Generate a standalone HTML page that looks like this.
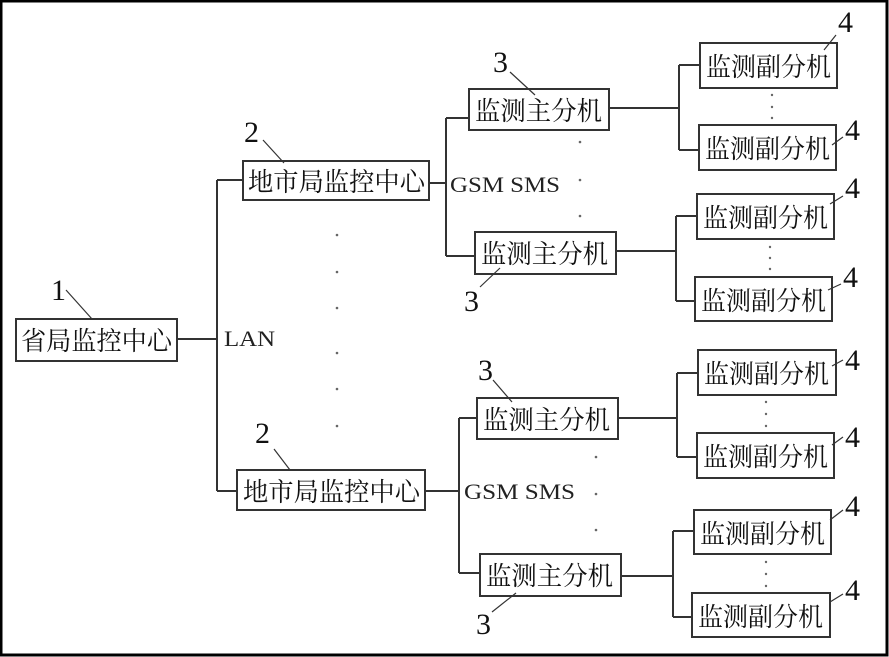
<!DOCTYPE html>
<html><head><meta charset="utf-8"><style>
html,body{margin:0;padding:0;background:#fff}
svg{display:block}
.b{fill:#fff;stroke:#333;stroke-width:2}
.l{stroke:#333;stroke-width:2;fill:none}
.ld{stroke:#333;stroke-width:1.2;fill:none}
.c{font-family:"Liberation Serif","Noto Serif CJK SC",serif;font-size:26px;fill:#111}
.n{font-family:"Liberation Serif",serif;font-size:30px;fill:#111}
.t{font-family:"Liberation Serif",serif;font-size:22px;fill:#222}
.d{fill:#666}
</style></head><body>
<svg width="889" height="657" viewBox="0 0 889 657" xmlns="http://www.w3.org/2000/svg">
<rect x="1" y="1" width="886" height="654" fill="#fff" stroke="#000" stroke-width="3"/>
<path class="l" d="M177 339H217M217 180V491M217 180H243M217 491H237"/>
<path class="l" d="M429 183H446M446 118V256M446 118H469M446 256H475"/>
<path class="l" d="M609 108H679M679 65V150M679 65H700M679 150H699"/>
<path class="l" d="M616 251H676M676 216V301M676 216H697M676 301H695"/>
<path class="l" d="M425 491H459M459 418V573M459 418H477M459 573H480"/>
<path class="l" d="M618 418H677M677 373V457M677 373H698M677 457H697"/>
<path class="l" d="M621 576H673M673 531V617M673 531H694M673 617H692"/>
<rect class="b" x="16" y="319" width="161" height="42"/>
<text class="c" x="21" y="350" textLength="151" lengthAdjust="spacingAndGlyphs">省局监控中心</text>
<rect class="b" x="243" y="161" width="186" height="39"/>
<text class="c" x="248" y="191" textLength="177" lengthAdjust="spacingAndGlyphs">地市局监控中心</text>
<rect class="b" x="237" y="470" width="188" height="40"/>
<text class="c" x="243" y="501" textLength="177" lengthAdjust="spacingAndGlyphs">地市局监控中心</text>
<rect class="b" x="469" y="89" width="140" height="41"/>
<text class="c" x="475" y="120" textLength="127" lengthAdjust="spacingAndGlyphs">监测主分机</text>
<rect class="b" x="475" y="232" width="141" height="42"/>
<text class="c" x="481" y="263" textLength="127" lengthAdjust="spacingAndGlyphs">监测主分机</text>
<rect class="b" x="477" y="398" width="141" height="41"/>
<text class="c" x="483" y="429" textLength="127" lengthAdjust="spacingAndGlyphs">监测主分机</text>
<rect class="b" x="480" y="554" width="141" height="42"/>
<text class="c" x="486" y="585" textLength="127" lengthAdjust="spacingAndGlyphs">监测主分机</text>
<g>
<rect class="b" x="700" y="43" width="137" height="45"/><text class="c" x="706" y="76" textLength="125" lengthAdjust="spacingAndGlyphs">监测副分机</text>
<rect class="b" x="699" y="125" width="137" height="45"/><text class="c" x="705" y="158" textLength="125" lengthAdjust="spacingAndGlyphs">监测副分机</text>
<rect class="b" x="697" y="194" width="137" height="45"/><text class="c" x="703" y="227" textLength="125" lengthAdjust="spacingAndGlyphs">监测副分机</text>
<rect class="b" x="695" y="277" width="137" height="44"/><text class="c" x="701" y="310" textLength="125" lengthAdjust="spacingAndGlyphs">监测副分机</text>
<rect class="b" x="698" y="350" width="138" height="45"/><text class="c" x="704" y="383" textLength="125" lengthAdjust="spacingAndGlyphs">监测副分机</text>
<rect class="b" x="697" y="433" width="137" height="45"/><text class="c" x="703" y="466" textLength="125" lengthAdjust="spacingAndGlyphs">监测副分机</text>
<rect class="b" x="694" y="510" width="137" height="44"/><text class="c" x="700" y="543" textLength="125" lengthAdjust="spacingAndGlyphs">监测副分机</text>
<rect class="b" x="692" y="593" width="138" height="44"/><text class="c" x="698" y="626" textLength="125" lengthAdjust="spacingAndGlyphs">监测副分机</text>
</g>
<text class="t" x="224" y="346" textLength="51" lengthAdjust="spacingAndGlyphs">LAN</text>
<text class="t" x="450" y="192" textLength="110" lengthAdjust="spacingAndGlyphs">GSM SMS</text>
<text class="t" x="464" y="499" textLength="111" lengthAdjust="spacingAndGlyphs">GSM SMS</text>
<g class="d">
<circle cx="337" cy="235" r="1.3"/><circle cx="337" cy="272" r="1.3"/><circle cx="337" cy="308" r="1.3"/><circle cx="337" cy="353" r="1.3"/><circle cx="337" cy="389" r="1.3"/><circle cx="337" cy="426" r="1.3"/>
<circle cx="580" cy="142" r="1.3"/><circle cx="580" cy="180" r="1.3"/><circle cx="580" cy="216" r="1.3"/>
<circle cx="596" cy="457" r="1.3"/><circle cx="596" cy="494" r="1.3"/><circle cx="596" cy="530" r="1.3"/>
<circle cx="772" cy="95" r="1.2"/><circle cx="772" cy="107" r="1.2"/><circle cx="772" cy="118" r="1.2"/>
<circle cx="770" cy="247" r="1.2"/><circle cx="770" cy="258" r="1.2"/><circle cx="770" cy="269" r="1.2"/>
<circle cx="766" cy="402" r="1.2"/><circle cx="766" cy="414" r="1.2"/><circle cx="766" cy="426" r="1.2"/>
<circle cx="766" cy="562" r="1.2"/><circle cx="766" cy="574" r="1.2"/><circle cx="766" cy="586" r="1.2"/>
</g>
<text class="n" x="51" y="300">1</text><path class="ld" d="M66 290L92 319"/>
<text class="n" x="244" y="142">2</text><path class="ld" d="M263 140L284 163"/>
<text class="n" x="255" y="443">2</text><path class="ld" d="M274 449L290 470"/>
<text class="n" x="493" y="72">3</text><path class="ld" d="M510 72L535 95"/>
<text class="n" x="464" y="311">3</text><path class="ld" d="M480 287L500 268"/>
<text class="n" x="478" y="380">3</text><path class="ld" d="M493 380L512 402"/>
<text class="n" x="476" y="634">3</text><path class="ld" d="M492 612L516 593"/>
<text class="n" x="838" y="32">4</text><path class="ld" d="M836 35L824 50"/>
<text class="n" x="845" y="140">4</text><path class="ld" d="M843 137L832 145"/>
<text class="n" x="845" y="198">4</text><path class="ld" d="M843 196L830 204"/>
<text class="n" x="843" y="287">4</text><path class="ld" d="M841 284L828 290"/>
<text class="n" x="845" y="370">4</text><path class="ld" d="M843 360L832 366"/>
<text class="n" x="845" y="447">4</text><path class="ld" d="M843 437L832 445"/>
<text class="n" x="845" y="516">4</text><path class="ld" d="M843 510L830 520"/>
<text class="n" x="845" y="600">4</text><path class="ld" d="M843 594L830 602"/>
</svg>
</body></html>
